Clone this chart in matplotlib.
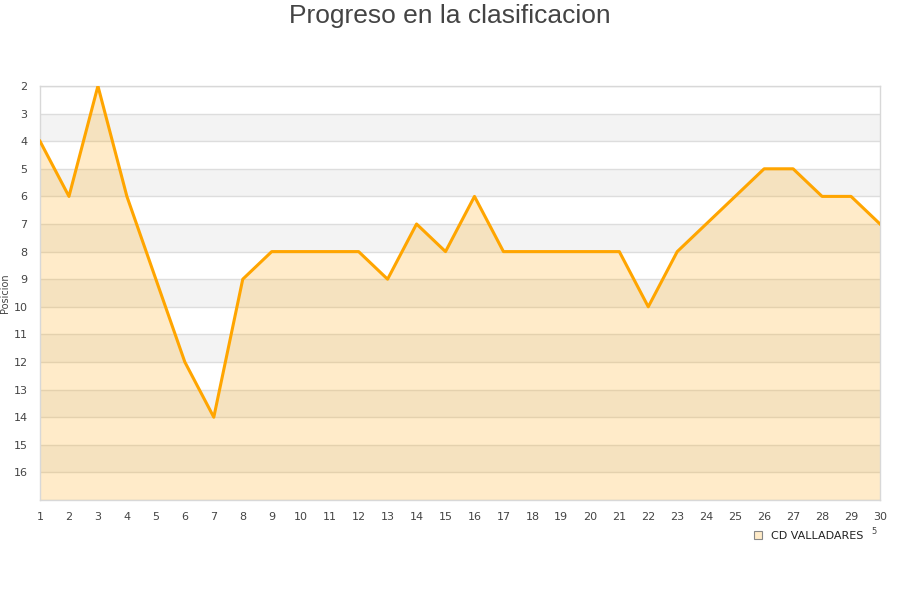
import matplotlib
matplotlib.use("Agg")
import matplotlib.pyplot as plt
from matplotlib.lines import Line2D

jornadas = list(range(1, 31))
posiciones = [4, 6, 2, 6, 9, 12, 14, 9, 8, 8, 8, 8, 9, 7, 8, 6, 8, 8, 8, 8, 8, 10, 8, 7, 6, 5, 5, 6, 6, 7]
y_ticks = list(range(2, 17))
equipo = "CD VALLADARES"
titulo = "Progreso en la clasificacion"

fig = plt.figure(figsize=(9, 6), dpi=100)
ax = fig.add_axes([40/900, 1-500/600, 840/900, 414/600])

ymin, ymax = 2, 17
# alternating bands
for k in range(ymin, ymax):
    if (k - ymin) % 2 == 1:
        ax.axhspan(k, k + 1, color="#f3f3f3", zorder=0, lw=0)
for k in range(ymin, ymax + 1):
    ax.axhline(k, color="#dddddd", lw=1, zorder=1)

ax.fill_between(jornadas, posiciones, ymax, color="#ffa500", alpha=0.21, lw=0, zorder=2)
ax.plot(jornadas, posiciones, color="#ffa500", lw=2.2, zorder=3)

ax.set_xlim(1, 30)
ax.set_ylim(ymax, ymin)
ax.set_xticks(jornadas)
ax.set_yticks(y_ticks)
ax.tick_params(axis="both", length=0, labelsize=8, colors="#444444")
ax.tick_params(axis="x", pad=9)
ax.tick_params(axis="y", pad=9)
for s in ax.spines.values():
    s.set_color("#d8d8d8")
    s.set_linewidth(1)

ax.set_ylabel("Posicion", fontsize=7, color="#444444")
ax.yaxis.set_label_coords(-30/840, 0.5)
fig.text(0.5, 1-16/600, titulo, ha="center", va="center", fontsize=19,
         color="#444444", family="Liberation Sans")

handle = Line2D([], [], marker="s", ls="none", markersize=6,
                markerfacecolor="#ffebc8", markeredgecolor="#888888", markeredgewidth=0.8)
fig.legend([handle], [equipo], loc="center", bbox_to_anchor=(808/900, 1-536/600),
           frameon=False, fontsize=8, handletextpad=0.6, handlelength=1.0,
           labelcolor="#222222")
fig.text(874/900, 1-531/600, "5", fontsize=6, color="#444444", ha="center", va="center")

fig.savefig("out.png", dpi=100)
